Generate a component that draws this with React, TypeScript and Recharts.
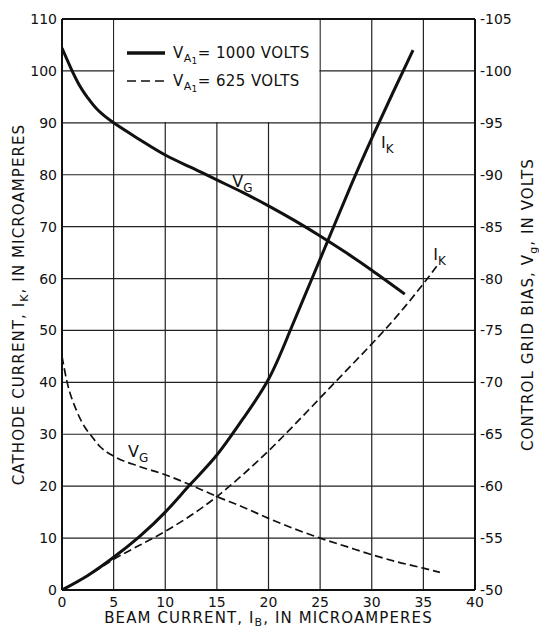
import {
  ComposedChart,
  Line,
  XAxis,
  YAxis,
  CartesianGrid,
  ReferenceArea,
  ReferenceLine,
  ReferenceDot,
  Legend,
} from "recharts";

const FONT = "'DejaVu Sans', sans-serif";
const INK = "#111";

// ── Axis ticks ──────────────────────────────────────────────────────────────
const BEAM_TICKS = [0, 5, 10, 15, 20, 25, 30, 35, 40];
const CATHODE_TICKS = [0, 10, 20, 30, 40, 50, 60, 70, 80, 90, 100, 110];
const BIAS_TICKS = [-50, -55, -60, -65, -70, -75, -80, -85, -90, -95, -100, -105];

const ANODE_VOLTS = ["1000", "625"];

// ── V_A1 = 1000 volts ───────────────────────────────────────────────────────
const IK_1000_BEAM = [0, 2.5, 5, 7.5, 10, 12.5, 15, 17.5, 20, 22, 24, 26, 28, 30, 32, 34];
const IK_1000_CATHODE = [0, 2.8, 6.3, 10.3, 15, 20.5, 26, 32.9, 40.6, 49.5, 59, 68.5, 78, 87, 95.6, 104];
const VG_1000_BEAM = [0, 0.8, 1.7, 2.5, 3.4, 5, 7.5, 10, 12.5, 15, 17.5, 20, 22.5, 25, 27.5, 30, 33.2];
const VG_1000_BIAS = [-102.2, -100.4, -98.6, -97.4, -96.3, -95, -93.4, -91.9, -90.7, -89.5, -88.3, -87, -85.6, -84.1, -82.5, -80.8, -78.5];

// ── V_A1 = 625 volts ────────────────────────────────────────────────────────
const IK_625_BEAM = [0, 2.5, 5, 7.5, 10, 12.5, 15, 17.5, 20, 22.5, 25, 27.5, 30, 32.5, 35, 36.3];
const IK_625_CATHODE = [0, 2.8, 5.9, 8.6, 11.3, 14.4, 18, 22.2, 26.8, 31.8, 37, 42.2, 47.4, 52.9, 59, 62.4];
const VG_625_BEAM = [0, 0.5, 1.4, 2.2, 2.8, 3.7, 5, 7.5, 10, 12.5, 15, 17.5, 20, 22.5, 25, 27.5, 30, 32.5, 35, 36.6];
const VG_625_BIAS = [-72.5, -70, -67.3, -65.7, -64.9, -63.8, -62.9, -61.9, -61.1, -60.1, -59, -58, -56.9, -55.9, -55, -54.2, -53.4, -52.7, -52.1, -51.7];

const zip = (xs: number[], ys: number[]) => xs.map((beam, i) => ({ beam, value: ys[i] }));

const ik1000 = zip(IK_1000_BEAM, IK_1000_CATHODE);
const vg1000 = zip(VG_1000_BEAM, VG_1000_BIAS);
const ik625 = zip(IK_625_BEAM, IK_625_CATHODE);
const vg625 = zip(VG_625_BEAM, VG_625_BIAS);

// curve tags: [beam, cathode-axis value at baseline, main letter, subscript]
const TAGS: [number, number, string, string][] = [
  [16.5, 77.6, "V", "G"],
  [30.9, 85.2, "I", "K"],
  [35.95, 63.6, "I", "K"],
  [6.4, 25.6, "V", "G"],
];

const titleStyle = { fill: INK, fontFamily: FONT, fontSize: 15, letterSpacing: 1.1 };

function Tag({ cx, cy, main, sub }: any) {
  return (
    <text x={cx} y={cy} fill={INK} fontFamily={FONT} fontSize={16}>
      {main}
      <tspan fontSize={12} dy={5}>{sub}</tspan>
    </text>
  );
}

function LeftTitle({ viewBox }: any) {
  const vb = viewBox ?? { x: 0, y: 19, width: 62, height: 571 };
  const x = vb.x + 24;
  const y = vb.y + vb.height / 2;
  return (
    <text transform={`translate(${x},${y}) rotate(-90)`} textAnchor="middle" {...titleStyle}>
      CATHODE CURRENT, I<tspan fontSize={11} dy={4}>K</tspan>
      <tspan dy={-4}>, IN MICROAMPERES</tspan>
    </text>
  );
}

function RightTitle({ viewBox }: any) {
  const vb = viewBox ?? { x: 475, y: 19, width: 64, height: 571 };
  const x = vb.x + 58;
  const y = vb.y + vb.height / 2;
  return (
    <text transform={`translate(${x},${y}) rotate(-90)`} textAnchor="middle" {...titleStyle}>
      CONTROL GRID BIAS, V<tspan fontSize={11} dy={4}>g</tspan>
      <tspan dy={-4}>, IN VOLTS</tspan>
    </text>
  );
}

function BottomTitle({ viewBox }: any) {
  const vb = viewBox ?? { x: 62, y: 590, width: 413, height: 40 };
  return (
    <text x={vb.x + vb.width / 2} y={vb.y + 33} textAnchor="middle" {...titleStyle}>
      BEAM CURRENT, I<tspan fontSize={11} dy={3}>B</tspan>
      <tspan dy={-3}>, IN MICROAMPERES</tspan>
    </text>
  );
}

function LegendBox() {
  return (
    <div style={{ fontFamily: FONT, fontSize: 15, letterSpacing: 0.4, color: INK }}>
      {ANODE_VOLTS.map((v, i) => (
        <div key={v} style={{ display: "flex", alignItems: "center", height: 28 }}>
          <svg width={40} height={8}>
            <line
              x1={0}
              y1={4}
              x2={38}
              y2={4}
              stroke={INK}
              strokeWidth={i === 0 ? 3.5 : 1.7}
              strokeDasharray={i === 0 ? undefined : "9 5"}
            />
          </svg>
          <span style={{ marginLeft: 6, whiteSpace: "nowrap" }}>
            V
            <span style={{ fontSize: 11, position: "relative", top: 4 }}>
              A<span style={{ fontSize: 9, position: "relative", top: 2 }}>1</span>
            </span>
            = {v} VOLTS
          </span>
        </div>
      ))}
    </div>
  );
}

export default function App() {
  return (
    <div style={{ position: "absolute", left: 0, top: 0, background: "#fff" }}>
      <ComposedChart
        width={539}
        height={630}
        margin={{ top: 19, right: 0, bottom: 0, left: 0 }}
        style={{ fontFamily: FONT }}
      >
        <CartesianGrid yAxisId="cathode" stroke="#222" strokeWidth={1.2} strokeOpacity={1} />
        <XAxis
          type="number"
          dataKey="beam"
          domain={[0, 40]}
          ticks={BEAM_TICKS}
          height={40}
          tickLine={false}
          tickSize={4}
          tickMargin={3}
          axisLine={{ stroke: INK, strokeWidth: 2 }}
          tick={{ fill: INK, fontSize: 14 }}
          allowDataOverflow
          label={<BottomTitle />}
        />
        <YAxis
          yAxisId="cathode"
          type="number"
          domain={[0, 110]}
          ticks={CATHODE_TICKS}
          width={62}
          tickLine={false}
          tickSize={3}
          tickMargin={2}
          axisLine={{ stroke: INK, strokeWidth: 2 }}
          tick={{ fill: INK, fontSize: 14 }}
          allowDataOverflow
          label={<LeftTitle />}
        />
        <YAxis
          yAxisId="bias"
          orientation="right"
          type="number"
          domain={[-105, -50]}
          reversed
          ticks={BIAS_TICKS}
          width={64}
          tickLine={false}
          tickSize={3}
          tickMargin={2}
          axisLine={{ stroke: INK, strokeWidth: 2 }}
          tick={{ fill: INK, fontSize: 14 }}
          allowDataOverflow
          label={<RightTitle />}
        />
        <ReferenceArea
          yAxisId="cathode"
          x1={5.08}
          x2={24.92}
          y1={90.15}
          y2={110}
          fill="#fff"
          fillOpacity={1}
          stroke="none"
        />
        <ReferenceLine yAxisId="cathode" y={110} stroke={INK} strokeWidth={2} />
        <Line
          data={ik1000}
          dataKey="value"
          yAxisId="cathode"
          type="natural"
          stroke={INK}
          strokeWidth={3}
          dot={false}
          name="1000"
          isAnimationActive={false}
        />
        <Line
          data={vg1000}
          dataKey="value"
          yAxisId="bias"
          type="natural"
          stroke={INK}
          strokeWidth={3}
          dot={false}
          legendType="none"
          isAnimationActive={false}
        />
        <Line
          data={ik625}
          dataKey="value"
          yAxisId="cathode"
          type="natural"
          stroke={INK}
          strokeWidth={1.7}
          strokeDasharray="8 4"
          dot={false}
          name="625"
          isAnimationActive={false}
        />
        <Line
          data={vg625}
          dataKey="value"
          yAxisId="bias"
          type="monotone"
          stroke={INK}
          strokeWidth={1.7}
          strokeDasharray="8 4"
          dot={false}
          legendType="none"
          isAnimationActive={false}
        />
        {TAGS.map(([beam, val, main, sub], i) => (
          <ReferenceDot
            key={i}
            yAxisId="cathode"
            x={beam}
            y={val}
            r={1}
            shape={(p: any) => <Tag cx={p.cx} cy={p.cy} main={main} sub={sub} />}
          />
        ))}
        <Legend
          content={<LegendBox />}
          layout="vertical"
          align="center"
          verticalAlign="middle"
          wrapperStyle={{ left: 127, top: 39, width: 230 }}
        />
      </ComposedChart>
    </div>
  );
}
